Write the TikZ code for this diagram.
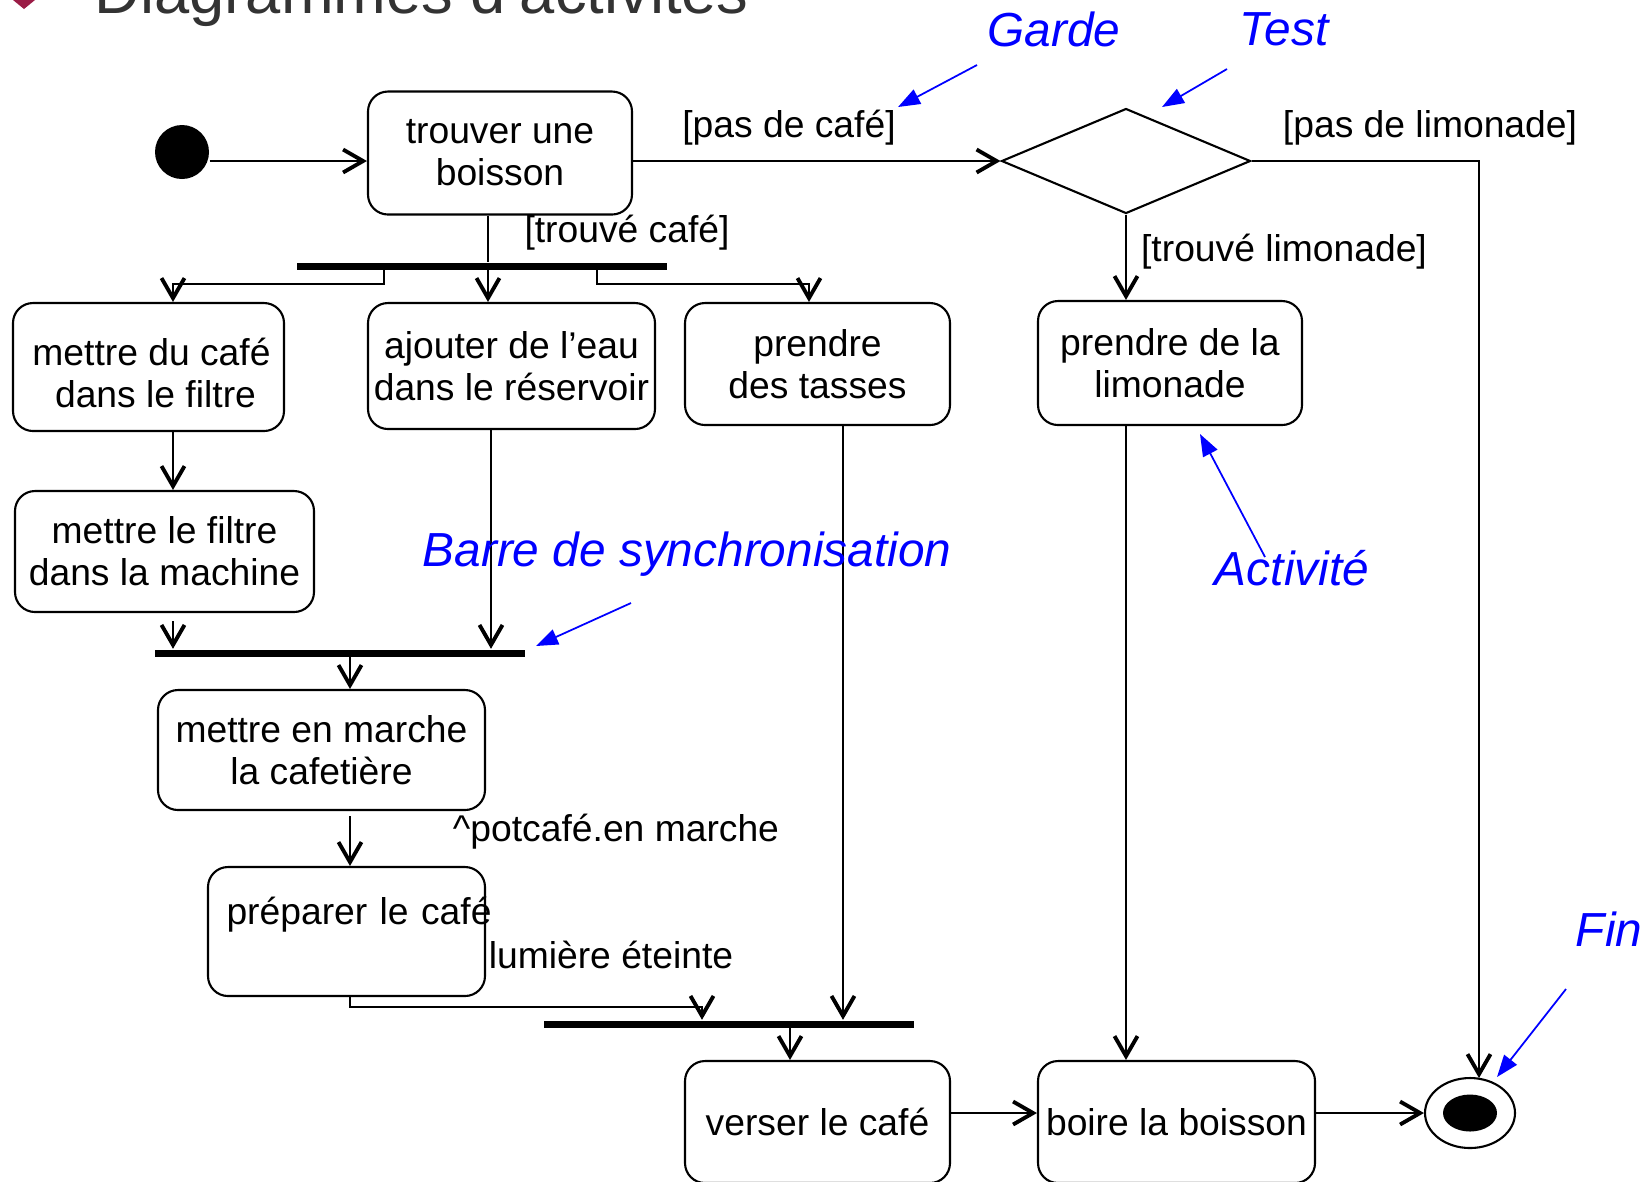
\documentclass[tikz,border=0pt]{standalone}
\usepackage{fontspec}
\setmainfont{Liberation Sans}
\usetikzlibrary{arrows.meta, positioning, shapes, calc}
\definecolor{NoteBlue}{RGB}{0, 0, 255}
\definecolor{TitleGrey}{RGB}{51, 51, 51}
\definecolor{BulletRed}{RGB}{155, 28, 70}

\begin{document}
\begin{tikzpicture}[x=0.1mm, y=-0.1mm,
        act/.style={rectangle, rounded corners=2mm, draw, line width=0.6pt, align=center, inner sep=0pt, font=\fontsize{10.6}{12}\selectfont},
        bar/.style={rectangle, fill=black, minimum width=37mm, minimum height=0.7mm, inner sep=0pt},
        flow/.style={-{Straight Barb[length=2mm, width=2.3mm, line width=1.1pt]}, line width=0.5pt},
        guard/.style={font=\fontsize{10.6}{12}\selectfont},
        note/.style={font=\fontsize{13.6}{16}\selectfont\itshape, text=NoteBlue},
        notearrow/.style={-{Triangle[length=2.2mm, width=1.6mm]}, NoteBlue, line width=0.5pt}
    ]
        \useasboundingbox (0,0) rectangle (1647,1181);

        % Title (cut at the top)
        \fill[BulletRed] (24,-14) -- (35,0) -- (24,9) -- (13,0) -- cycle;
        \node[anchor=base west, inner sep=0pt, text=TitleGrey, font=\fontsize{18}{20}\selectfont] (titre) at (94,13) {Diagrammes d’activités};

        % Start and decision
        \coordinate (ligne) at (0,161);
        \node[circle, fill=black, minimum size=5.4mm, inner sep=0pt] (debut) at (182,152) {};
        \node[act, minimum width=26.4mm, minimum height=12.3mm] (trouver) at (500,153) {trouver une\\boisson};
        \node[diamond, draw, line width=0.6pt, minimum width=24.9mm, minimum height=10.5mm, inner sep=0pt] (choix) at (1126,161) {};
        \draw[flow] (debut.east |- ligne) -- (trouver.west |- ligne);
        \draw[flow] (trouver.east |- ligne) -- (choix.west);
        \node[guard] (pasCafe) at (789,128) {[pas de café]};
        \node[guard] (pasLimonade) at (1430,128) {[pas de limonade]};

        % Fork
        \node[bar] (fourche) at (482,266) {};
        \node[act, minimum width=27.1mm, minimum height=12.8mm] (filtreCafe) at (148.5,367) {\rule{0pt}{3.9mm}\hspace*{0.6mm}mettre du café\\\hspace*{1.4mm}dans le filtre};
        \node[act, minimum width=28.7mm, minimum height=12.6mm] (eau) at (511.5,366) {ajouter de l’eau\\dans le réservoir};
        \node[act, minimum width=26.5mm, minimum height=12.2mm] (tasses) at (817.5,364) {prendre\\des tasses};
        \draw[line width=0.5pt] (trouver.south -| {488,0}) -- (fourche.north -| {488,0});
        \draw[flow] (fourche.south -| {488,0}) -- (eau.north -| {488,0});
        \draw[flow] (fourche.south -| {384,0}) |- ({173,284}) -- (filtreCafe.north -| {173,0});
        \draw[flow] (fourche.south -| {597,0}) |- ({809,284}) -- (tasses.north -| {809,0});
        \node[guard] (trouveCafe) at (627,233) {[trouvé café]};

        % Lemonade branch
        \node[act, minimum width=26.4mm, minimum height=12.4mm] (limonade) at (1170,363) {prendre de la\\limonade};
        \draw[flow] (choix.south) -- (limonade.north -| choix.south);
        \node[guard] (trouveLimonade) at (1284,252) {[trouvé limonade]};

        % Join
        \node[act, minimum width=29.9mm, minimum height=12.1mm] (machine) at (164.5,551.5) {mettre le filtre\\dans la machine};
        \node[bar] (jointure) at (340,653) {};
        \node[act, minimum width=32.7mm, minimum height=12mm] (marche) at (321.5,750) {mettre en marche\\la cafetière};
        \node[act, minimum width=27.7mm, minimum height=12.9mm, text width=24mm, align=left] (preparer) at (346.5,931.5) {\mbox{préparer le café}\\\mbox{}};
        \draw[flow] (filtreCafe.south -| {173,0}) -- (machine.north -| {173,0});
        \draw[flow, shorten <=0.8mm] (machine.south -| {173,0}) -- (jointure.north -| {173,0});
        \draw[flow] (eau.south -| {491,0}) -- (jointure.north -| {491,0});
        \draw[flow] (jointure.south -| {350,0}) -- (marche.north -| {350,0});
        \draw[flow, shorten <=0.5mm] (marche.south -| {350,0}) -- (preparer.north -| {350,0});
        \node[guard] (potcafe) at (616,832) {\textasciicircum potcafé.en marche};
        \node[guard] (lumiere) at (611,955) {lumière éteinte};

        % Second join and end
        \node[bar] (synchro) at (729,1024) {};
        \node[act, minimum width=26.5mm, minimum height=12.2mm] (verser) at (817.5,1122) {verser le café};
        \node[act, minimum width=27.7mm, minimum height=12.2mm] (boire) at (1176.5,1122) {boire la boisson};
        \node[ellipse, draw, line width=0.6pt, minimum width=9mm, minimum height=7mm, inner sep=0pt] (fin) at (1470,1113) {};
        \node[ellipse, fill=black, minimum width=5.4mm, minimum height=3.7mm, inner sep=0pt] (finPoint) at (fin.center) {};
        \coordinate (finHaut) at (1479,1078);
        \draw[flow] (preparer.south -| {350,0}) |- ({702,1007}) -- (synchro.north -| {702,0});
        \draw[flow] (tasses.south -| {843,0}) -- (synchro.north -| {843,0});
        \draw[flow] (synchro.south -| {790,0}) -- (verser.north -| {790,0});
        \draw[flow] (limonade.south -| choix.south) -- (boire.north -| choix.south);
        \draw[flow] (verser.east |- fin) -- (boire.west |- fin);
        \draw[flow] (boire.east |- fin) -- (fin.west);
        \draw[flow] (choix.east) -| (finHaut);

        % Blue notes
        \node[note] (garde) at (1054,29) {Garde};
        \node[note] (test) at (1284,29) {Test};
        \node[note] (barre) at (687,554) {Barre de synchronisation};
        \node[note] (activite) at (1292,568) {Activité};
        \node[note] (finNote) at (1609,929) {Fin};
        \coordinate (gardeA) at (977,65);   \coordinate (gardeB) at (898,107);
        \coordinate (testA) at (1227,69);   \coordinate (testB) at (1162,107);
        \coordinate (barreA) at (631,603);  \coordinate (barreB) at (536,646);
        \coordinate (actA) at (1265,557);   \coordinate (actB) at (1200,434);
        \coordinate (finA) at (1566,989);   \coordinate (finB) at (1497,1077);
        \draw[notearrow] (gardeA) -- (gardeB);
        \draw[notearrow] (testA) -- (testB);
        \draw[notearrow] (barreA) -- (barreB);
        \draw[notearrow] (actA) -- (actB);
        \draw[notearrow] (finA) -- (finB);
    \end{tikzpicture}
\end{document}
